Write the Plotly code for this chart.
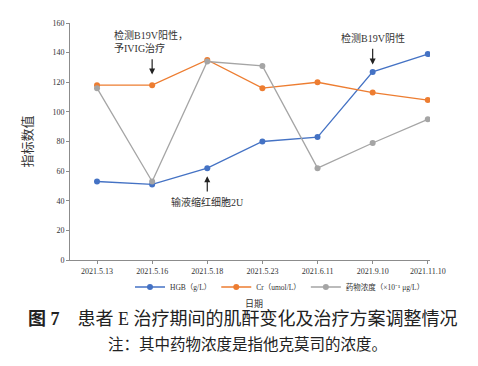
import plotly.graph_objects as go

dates = ["2021.5.13", "2021.5.16", "2021.5.18", "2021.5.23", "2021.6.11", "2021.9.10", "2021.11.10"]
hgb = [53, 51, 62, 80, 83, 127, 139]
cr = [118, 118, 135, 116, 120, 113, 108]
drug = [116, 53, 134, 131, 62, 79, 95]
y_ticks = [0, 20, 40, 60, 80, 100, 120, 140, 160]

SERIF = "Liberation Serif, Noto Sans CJK SC, serif"
idx = list(range(len(dates)))

fig = go.Figure()
series = [
    ("HGB（g/L）", hgb, "#4472C4"),
    ("Cr（umol/L）", cr, "#ED7D31"),
    ("药物浓度（×10⁻¹ μg/L）", drug, "#A5A5A5"),
]
for name, vals, col in series:
    fig.add_trace(go.Scatter(
        x=idx, y=vals, name=name, mode="lines+markers",
        line=dict(color=col, width=1.3),
        marker=dict(color=col, size=6),
    ))

# arrows (tail -> tip in data coords)
arrows = [
    (1, 136.5, 125.2),
    (5, 143.7, 132.0),
    (2, 45.3, 56.5),
]
for xa, tail, tip in arrows:
    fig.add_annotation(x=xa, y=tip, ax=xa, ay=tail, axref="x", ayref="y",
                       xref="x", yref="y", text="", showarrow=True,
                       arrowhead=2, arrowsize=1, arrowwidth=1.2, arrowcolor="#222")

texts = [
    (0.98, 147.4, "检测B19V阳性，<br>予IVIG治疗"),
    (5.0, 150.0, "检测B19V阴性"),
    (2.0, 39.0, "输液缩红细胞2U"),
]
for xa, ya, t in texts:
    fig.add_annotation(x=xa, y=ya, xref="x", yref="y", text=t, showarrow=False,
                       align="left" if "<br>" in t else "center",
                       font=dict(family=SERIF, size=10, color="#333"))

H_plot = 366 - 15 - 114
W_plot = 478 - 62 - 56


def py(pix):
    return (366 - 114 - pix) / H_plot


def px(pix):
    return (pix - 62) / W_plot


fig.add_annotation(x=px(246), y=py(303), xref="paper", yref="paper", text="日期",
                   showarrow=False, font=dict(family=SERIF, size=9, color="#333"))
fig.add_annotation(x=px(235), y=py(323), xref="paper", yref="paper",
                   text="<b>图 7</b>　患者 E 治疗期间的肌酐变化及治疗方案调整情况",
                   showarrow=False, font=dict(family=SERIF, size=18, color="#222"))
fig.add_annotation(x=px(239), y=py(347), xref="paper", yref="paper",
                   text="注：其中药物浓度是指他克莫司的浓度。",
                   showarrow=False, font=dict(family=SERIF, size=15.5, color="#222"))

fig.update_layout(
    width=478, height=366,
    margin=dict(l=62, r=56, t=15, b=114),
    paper_bgcolor="white", plot_bgcolor="white",
    font=dict(family=SERIF, color="#333"),
    showlegend=True,
    legend=dict(orientation="h", x=px(272), xanchor="center", y=py(279), yanchor="middle",
                font=dict(family=SERIF, size=7.5, color="#333"),
                itemwidth=30, tracegroupgap=0, bgcolor="rgba(0,0,0,0)"),
    xaxis=dict(
        range=[-0.49, 6.04], tickmode="array", tickvals=idx, ticktext=dates,
        showgrid=False, zeroline=False, showline=True, linecolor="#8c8c8c", linewidth=1,
        ticks="outside", ticklen=3, tickcolor="#8c8c8c",
        tickfont=dict(family=SERIF, size=8, color="#333"),
    ),
    yaxis=dict(
        range=[0, 160], tickmode="array", tickvals=y_ticks,
        showgrid=False, zeroline=False, showline=True, linecolor="#8c8c8c", linewidth=1,
        ticks="outside", ticklen=3, tickcolor="#8c8c8c",
        tickfont=dict(family=SERIF, size=8, color="#333"),
        title=dict(text="指标数值", font=dict(family=SERIF, size=13, color="#333"), standoff=16),
    ),
)

fig.write_html("out.html")
